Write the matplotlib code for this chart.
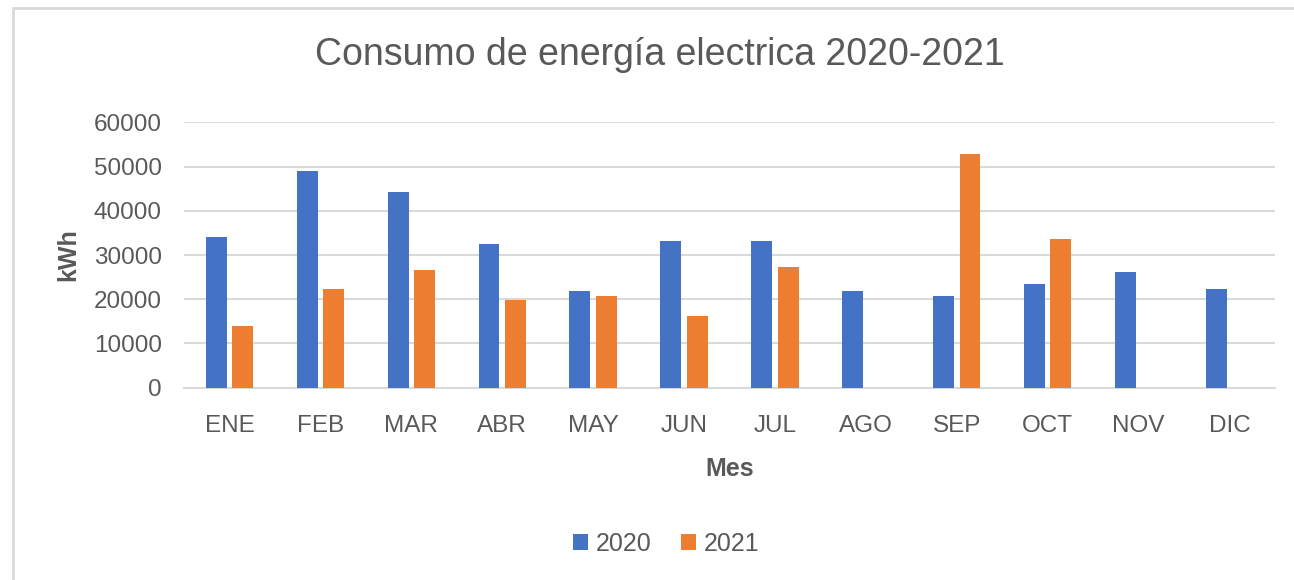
import numpy as np
import matplotlib.pyplot as plt
from matplotlib.patches import Rectangle

meses = ['ENE', 'FEB', 'MAR', 'ABR', 'MAY', 'JUN', 'JUL', 'AGO', 'SEP', 'OCT', 'NOV', 'DIC']
kwh_2020 = [34100, 49100, 44300, 32600, 21900, 33100, 33100, 21900, 20800, 23500, 26200, 22400]
kwh_2021 = [13900, 22400, 26700, 19800, 20800, 16100, 27300, 0, 52900, 33700, 0, 0]

plt.rcParams['font.family'] = ['Liberation Sans', 'DejaVu Sans']

gris = '#595959'
azul = '#4472C4'
naranja = '#ED7D31'

fig = plt.figure(figsize=(12.94, 5.8), dpi=100)
ax = fig.add_axes([0.1422, 0.3316, 0.8431, 0.4574])

x = np.arange(len(meses))
w = 0.23
ax.bar(x - 0.145, kwh_2020, w, color=azul, label='2020', zorder=3)
ax.bar(x + 0.145, kwh_2021, w, color=naranja, label='2021', zorder=3)

ax.set_xlim(-0.5, len(meses) - 0.5)
ax.set_ylim(0, 60000)
ax.set_yticks(range(0, 60001, 10000))
ax.set_xticks(x)
ax.set_xticklabels(meses)
ax.grid(axis='y', color='#d9d9d9', linewidth=1.5, zorder=0)
for s in ['top', 'right', 'left']:
    ax.spines[s].set_visible(False)
ax.spines['bottom'].set_color('#d9d9d9')
ax.spines['bottom'].set_linewidth(1.5)
ax.tick_params(length=0, labelsize=17.5, labelcolor=gris)
ax.tick_params(axis='y', pad=16)
ax.tick_params(axis='x', pad=20)

ax.set_xlabel('Mes', fontsize=18, fontweight='bold', color=gris, labelpad=14)
ax.set_ylabel('kWh', fontsize=18, fontweight='bold', color=gris, labelpad=10)
fig.text(0.51, 0.905, 'Consumo de energía electrica 2020-2021', ha='center', va='center',
         fontsize=27, color=gris)

fig.legend(loc='center', bbox_to_anchor=(0.515, 0.062), ncol=2, frameon=False,
           fontsize=18, labelcolor=gris, handlelength=0.6, handleheight=0.6,
           handletextpad=0.3, columnspacing=1.2)

# marco del grafico
fig.add_artist(Rectangle((13 / 1294, -0.1), 1.2, (580 - 8) / 580 + 0.1, transform=fig.transFigure,
                         fill=False, edgecolor='#d9d9d9', linewidth=2))

fig.savefig('out.png', dpi=100)
